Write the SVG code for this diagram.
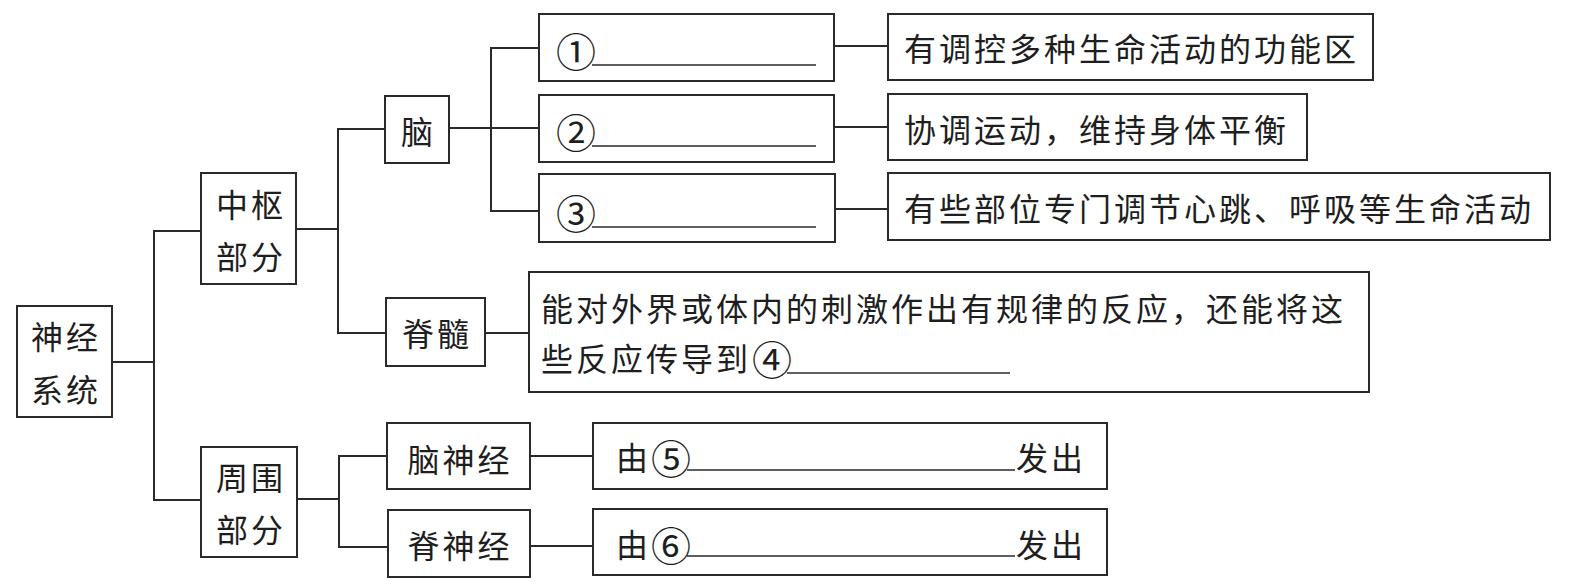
<svg xmlns="http://www.w3.org/2000/svg" width="1577" height="586" viewBox="0 0 1577 586">
<style>
.box{fill:#fff;stroke:#2a2a2a;stroke-width:2}
.con{fill:none;stroke:#2a2a2a;stroke-width:2}
.blank{stroke:#2a2a2a;stroke-width:1.6}
text{font-family:"Noto Sans CJK SC","Noto Sans",sans-serif;font-size:32px;fill:#1e1e1e;letter-spacing:3px;dominant-baseline:central}
text.num{font-size:40px;letter-spacing:0}
text.one{letter-spacing:0}
.c{text-anchor:middle}
</style>
<rect width="1577" height="586" fill="#fff"/>
<g id="connectors">
<path class="con" d="M112,362 H154 M201,231 H154 V500 H201"/>
<path class="con" d="M296,229 H338 M385,129 H338 V333 H386"/>
<path class="con" d="M449,128 H491 M539,48 H491 V211 H539 M491,128 H539"/>
<path class="con" d="M834,46 H888 M834,127 H888 M835,209 H888"/>
<path class="con" d="M485,333 H529"/>
<path class="con" d="M297,499 H339 M387,456 H339 V547 H388"/>
<path class="con" d="M530,456 H593 M530,546 H593"/>
</g>
<g id="n-shenjingxitong"><rect class="box" x="17" y="306" width="95" height="111"/><text class="c" x="66" y="335">神经</text><text class="c" x="66" y="388">系统</text></g>
<g id="n-zhongshu"><rect class="box" x="201" y="173" width="95" height="111"/><text class="c" x="251" y="203">中枢</text><text class="c" x="251" y="255">部分</text></g>
<g id="n-zhouwei"><rect class="box" x="201" y="447" width="96" height="110"/><text class="c" x="251" y="476">周围</text><text class="c" x="251" y="528">部分</text></g>
<g id="n-nao"><rect class="box" x="385" y="96" width="64" height="67"/><text class="c one" x="417" y="130">脑</text></g>
<g id="n-jisui"><rect class="box" x="386" y="298" width="99" height="68"/><text class="c" x="437" y="332">脊髓</text></g>
<g id="n-naoshenjing"><rect class="box" x="387" y="423" width="143" height="66"/><text class="c" x="460" y="458">脑神经</text></g>
<g id="n-jishenjing"><rect class="box" x="388" y="510" width="142" height="67"/><text class="c" x="460" y="544">脊神经</text></g>
<g id="n-1"><rect class="box" x="539" y="14" width="295" height="67"/><text class="num" x="556" y="50">①</text><line class="blank" x1="592" y1="65" x2="816" y2="65"/></g>
<g id="n-2"><rect class="box" x="539" y="95" width="295" height="67"/><text class="num" x="556" y="131">②</text><line class="blank" x1="592" y1="146" x2="816" y2="146"/></g>
<g id="n-3"><rect class="box" x="539" y="174" width="296" height="68"/><text class="num" x="556" y="212">③</text><line class="blank" x1="592" y1="227" x2="816" y2="227"/></g>
<g id="n-d1"><rect class="box" x="888" y="14" width="485" height="66"/><text x="904" y="47">有调控多种生命活动的功能区</text></g>
<g id="n-d2"><rect class="box" x="888" y="94" width="419" height="66"/><text x="904" y="128">协调运动，维持身体平衡</text></g>
<g id="n-d3"><rect class="box" x="888" y="173" width="662" height="67"/><text x="904" y="207">有些部位专门调节心跳、呼吸等生命活动</text></g>
<g id="n-d4"><rect class="box" x="529" y="272" width="840" height="120"/><text x="541" y="307">能对外界或体内的刺激作出有规律的反应，还能将这</text><text x="541" y="357">些反应传导到</text><text class="num" x="752" y="358">④</text><line class="blank" x1="787" y1="373" x2="1010" y2="373"/></g>
<g id="n-5"><rect class="box" x="593" y="423" width="514" height="66"/><text class="one" x="616" y="456">由</text><text class="num" x="651" y="457">⑤</text><line class="blank" x1="687" y1="470" x2="1015" y2="470"/><text x="1016" y="456">发出</text></g>
<g id="n-6"><rect class="box" x="593" y="509" width="514" height="66"/><text class="one" x="616" y="543">由</text><text class="num" x="651" y="544">⑥</text><line class="blank" x1="687" y1="556" x2="1015" y2="556"/><text x="1016" y="543">发出</text></g>
</svg>
